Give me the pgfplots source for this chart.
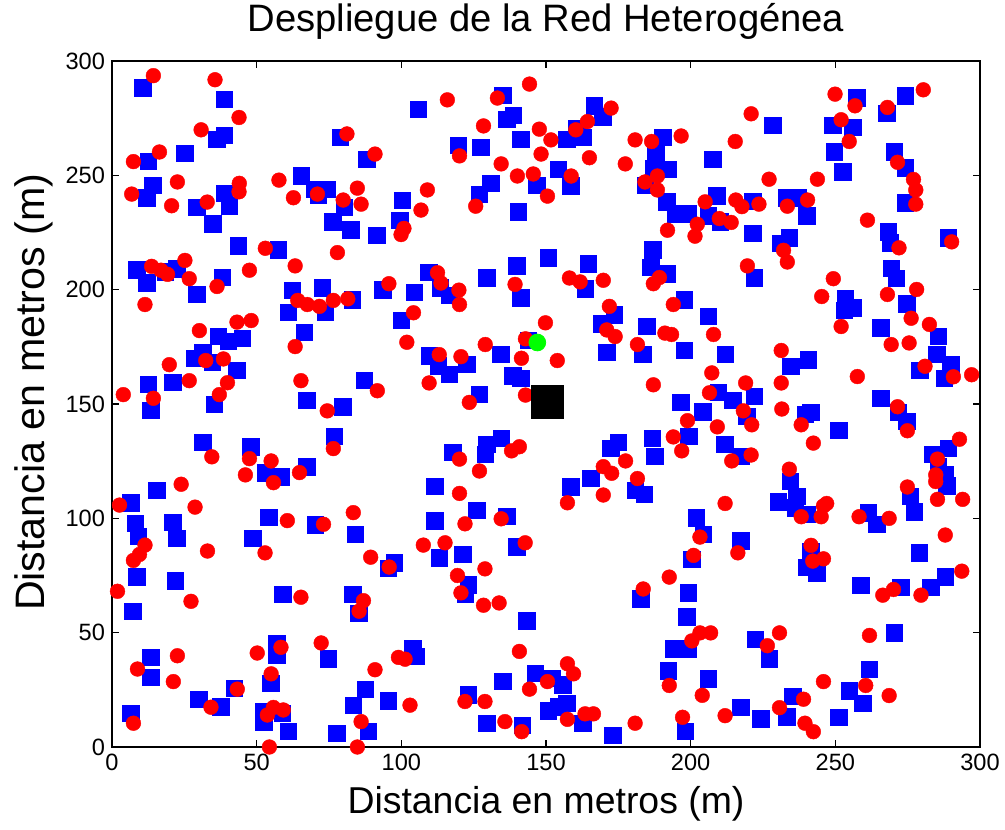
\documentclass[border=0pt]{standalone}
\usepackage{fontspec}
\setmainfont{Liberation Sans}
\usepackage{pgfplots}
\pgfplotsset{compat=1.18}

\begin{document}
\begin{tikzpicture}
\path[use as bounding box] (-56pt,-41pt) rectangle (446.5pt,373.5pt);
\begin{axis}[
  at={(0,0)}, anchor=south west,
  width=434pt, height=343pt, scale only axis,
  xmin=0, xmax=300, ymin=0, ymax=300,
  xtick={0,50,...,300}, ytick={0,50,...,300},
  tick align=inside, major tick length=3.5pt,
  axis line style={line width=0.8pt}, tick style={line width=0.7pt, black},
  /pgf/number format/assume math mode=true,
  tick label style={font=\fontsize{11.8}{14}\selectfont},
  title={Despliegue de la Red Heterogénea},
  title style={at={(axis description cs:0.5,1.0262)}, anchor=base, font=\fontsize{19.1}{22}\selectfont},
  xlabel={Distancia en metros (m)},
  xlabel style={at={(axis description cs:0.5,-0.0962)}, anchor=base, font=\fontsize{18.7}{22}\selectfont},
  ylabel={Distancia en metros (m)},
  ylabel style={at={(axis description cs:-0.0772,0.517)}, anchor=base, font=\fontsize{20.6}{24}\selectfont},
  clip=false,
]
% macro cells (blue squares)
\addplot[only marks, mark=square*, mark size=4.1pt, mark options={draw=blue, fill=blue, line width=0.2pt}] coordinates {
(10.6,288.4) (38.8,283.3) (38.8,267.5) (36.2,265.8) (25.1,259.6) (12.6,256.3) (78.9,266.7) (88.0,257.0) (14.1,245.6) (12.0,240.3) (38.8,242.1) (40.5,236.8) (29.3,236.1) (34.8,228.9) (65.3,249.8) (70.0,243.9) (74.2,243.9) (71.3,241.4) (80.3,236.0) (76.3,229.8) (82.5,226.3) (91.5,223.7) (100.4,239.1) (99.4,230.5) (43.7,219.2) (57.5,217.5) (8.5,208.8) (22.4,209.2) (18.3,207.8) (12.0,203.0) (29.3,198.0) (38.1,205.5) (62.3,199.7) (72.6,200.8) (93.6,200.0) (104.5,199.0)
(61.0,190.2) (73.6,190.2) (83.1,195.6) (100.0,186.6) (66.5,181.4) (36.8,179.6) (40.2,177.5) (45.1,178.9) (31.4,172.6) (28.5,170.1) (34.7,168.2) (43.1,164.9) (12.6,158.7) (21.0,159.6) (13.4,147.3) (35.4,150.0) (67.3,151.7) (79.7,148.9) (87.2,160.5) (31.4,133.2) (47.9,131.4) (76.9,135.8) (67.3,122.6) (52.9,120.0) (58.3,118.2) (15.5,112.3) (6.5,106.8) (8.0,98.0) (21.0,98.3) (54.1,100.5) (70.2,97.2)
(9.1,92.2) (22.4,91.2) (48.6,91.2) (84.0,93.0) (97.6,80.6) (95.5,78.1) (8.5,74.4) (21.8,72.8) (7.2,59.4) (59.0,66.7) (83.2,66.7) (85.2,58.6) (56.9,45.5) (56.9,40.3) (74.8,38.6) (13.4,39.2) (13.4,30.5) (42.3,25.7) (29.9,21.0) (37.6,17.7) (54.9,27.9) (52.2,15.5) (52.4,11.1) (58.9,14.8) (61.0,7.0) (77.7,6.0) (88.6,7.0) (87.5,25.3) (83.4,18.4) (95.5,20.2) (6.5,14.8)
(105.9,278.9) (135.0,285.0) (136.4,274.6) (138.7,276.2) (166.7,280.4) (169.6,275.7) (141.3,265.8) (119.7,263.3) (127.4,262.3) (157.2,265.8) (162.7,266.7) (160.6,270.6) (190.3,266.7) (187.9,260.4) (187.1,253.1) (192.3,252.6) (184.2,245.8) (191.7,238.4) (194.6,233.3) (199.2,233.3) (154.3,252.6) (158.5,245.5) (146.8,245.8) (130.9,246.5) (126.9,241.8) (140.4,234.1) (186.9,217.5) (186.2,209.9) (191.7,207.0) (150.8,214.0) (164.6,211.4) (139.9,210.5) (109.5,207.7) (129.5,205.3) (113.4,200.8) (116.6,197.5) (141.3,196.5) (163.5,200.5) (197.8,195.6)
(169.3,185.1) (173.6,189.1) (171.0,172.6) (184.8,184.0) (183.4,171.9) (197.8,173.6) (143.9,178.0) (134.3,171.9) (109.7,171.2) (112.8,166.8) (116.5,163.1) (122.6,167.5) (138.5,162.4) (141.3,161.2) (126.9,154.4) (196.6,150.7) (199.3,135.8) (186.8,135.1) (187.5,127.3) (175.0,133.2) (172.4,130.7) (134.5,135.1) (129.5,132.4) (128.9,128.0) (117.7,128.8) (165.4,117.5) (158.5,113.9) (180.8,112.3) (184.0,110.5) (111.6,114.1) (126.0,103.5) (136.4,101.0) (111.6,99.0) (202.0,100.3)
(113.1,82.7) (121.2,84.2) (139.9,87.6) (123.2,71.0) (122.0,66.7) (143.3,55.3) (182.7,64.9) (199.2,67.4) (198.6,56.9) (200.4,82.0) (194.0,43.0) (199.2,43.0) (192.3,33.3) (103.9,43.0) (105.1,39.6) (135.0,28.9) (123.2,22.8) (146.2,32.3) (152.0,30.1) (155.8,27.2) (157.2,19.2) (154.3,17.7) (150.8,15.8) (162.7,10.4) (129.5,10.4) (141.8,9.6) (173.1,5.2) (198.1,7.0)
(257.4,284.0) (274.1,284.9) (267.8,277.2) (249.1,271.8) (256.0,271.0) (228.4,271.8) (249.7,260.4) (252.6,251.6) (207.6,257.0) (270.4,260.4) (274.1,253.4) (274.1,238.1) (209.0,241.1) (221.5,238.7) (233.2,240.3) (237.2,240.3) (240.1,232.3) (206.1,232.3) (210.2,229.7) (221.5,224.6) (231.1,220.2) (234.0,222.8) (268.3,225.3) (268.9,220.6) (289.1,222.8) (269.3,209.5) (271.0,205.1) (222.0,205.3)
(253.4,196.0) (256.0,192.1) (253.0,190.9) (274.7,193.8) (206.1,188.4) (265.7,183.3) (285.6,179.6) (285.1,171.9) (289.9,167.5) (279.1,164.9) (287.6,161.4) (211.9,171.9) (234.6,166.5) (240.7,169.3) (209.6,155.1) (214.5,151.7) (222.0,153.3) (204.1,146.6) (219.4,144.6) (239.5,145.6) (241.5,146.3) (265.7,152.6) (271.8,146.3) (274.7,142.4) (251.1,138.6) (211.7,132.4) (217.3,127.3) (283.7,128.0) (289.1,130.7) (285.6,122.9) (287.9,119.3) (288.5,114.2) (234.4,116.3) (236.7,109.8) (230.3,107.3) (236.1,104.6) (240.1,101.7) (275.8,109.8) (277.3,102.9) (261.4,102.5)
(264.3,97.4) (204.4,93.0) (217.3,90.3) (241.5,85.7) (240.1,78.6) (243.6,76.2) (279.0,84.9) (258.8,70.8) (272.6,70.0) (283.0,70.0) (287.9,74.4) (270.4,49.9) (222.3,47.2) (227.1,38.6) (206.1,29.8) (217.3,17.4) (224.2,12.3) (233.2,13.3) (235.3,22.1) (251.1,13.0) (254.8,24.6) (259.5,19.2) (261.7,34.1)
};
% users (red circles)
\addplot[only marks, mark=*, mark size=3.7pt, mark options={draw=red, fill=red, line width=0.2pt}] coordinates {
(14.3,293.6) (35.6,291.8) (43.9,275.3) (30.8,269.9) (16.4,260.2) (7.4,256.0) (81.2,268.1) (90.9,259.3) (22.6,247.1) (6.8,241.8) (20.6,236.7) (32.9,238.3) (44.0,246.5) (43.9,242.8) (57.7,247.9) (62.7,240.2) (71.0,241.8) (79.9,239.2) (84.8,244.4) (86.1,237.4) (100.9,226.8) (99.9,224.1) (53.0,218.1) (77.9,216.2) (63.3,210.4) (47.5,208.5) (25.2,212.8) (13.7,210.2) (16.9,208.5) (19.2,206.7) (26.7,204.8) (36.3,201.4) (95.7,202.6)
(11.4,193.5) (64.2,195.3) (67.5,193.5) (71.7,192.7) (76.5,195.3) (81.5,196.0) (43.2,185.8) (48.1,186.5) (30.2,182.1) (63.3,175.1) (101.9,177.0) (104.2,189.9) (32.4,169.0) (38.5,169.7) (19.8,167.2) (26.7,160.2) (39.9,159.3) (37.1,154.1) (3.9,154.1) (14.3,152.5) (65.3,160.2) (91.7,155.8) (74.4,147.0) (76.5,130.5) (34.5,126.9) (47.5,126.1) (55.0,125.1) (46.1,119.0) (55.8,115.6) (64.8,120.0) (23.9,114.9) (2.6,105.8) (28.7,104.9) (83.4,102.5) (60.6,99.0) (73.1,97.4)
(11.4,88.3) (9.5,84.2) (7.4,81.6) (33.0,85.7) (52.9,84.9) (89.4,83.0) (95.8,78.7) (1.9,68.1) (27.3,63.7) (65.3,65.5) (86.9,64.0) (85.4,59.4) (72.3,45.5) (58.4,43.6) (50.2,41.1) (22.6,39.9) (8.8,34.1) (21.2,28.6) (55.0,32.0) (43.3,25.3) (34.2,17.4) (55.8,17.3) (53.7,14.0) (59.2,16.2) (86.1,11.1) (90.9,33.8) (99.0,39.2) (101.3,38.4) (103.0,18.3) (7.4,10.4) (54.4,0.0) (84.8,0.0)
(144.3,289.9) (115.9,283.0) (133.2,283.8) (172.5,279.4) (128.4,271.6) (147.7,270.2) (151.7,265.5) (160.3,269.9) (164.3,273.5) (180.8,265.5) (186.5,264.8) (196.7,267.2) (120.1,258.5) (148.3,259.3) (165.0,257.7) (134.5,255.0) (177.4,255.0) (140.1,249.7) (145.6,250.6) (158.7,249.7) (188.5,249.7) (184.2,247.1) (188.5,243.6) (150.5,240.9) (109.0,243.6) (106.8,234.8) (125.7,236.5) (192.0,226.0) (112.5,207.4) (113.7,202.9) (119.9,199.8) (139.3,202.3) (158.1,205.1) (161.8,203.4) (169.8,204.1) (189.2,205.3) (187.1,202.6)
(120.1,193.5) (171.9,192.7) (194.0,193.5) (149.8,185.5) (142.9,178.5) (171.0,182.4) (173.9,179.5) (181.6,176.0) (191.1,181.0) (193.4,180.4) (113.1,171.6) (120.6,170.7) (129.0,176.0) (141.5,170.0) (153.9,169.0) (109.6,159.2) (142.9,153.9) (123.5,150.7) (187.1,158.4) (198.9,142.7) (194.0,135.6) (196.9,129.5) (138.1,129.5) (140.8,131.3) (120.1,125.9) (127.0,120.7) (169.8,122.6) (172.7,119.7) (177.5,125.1) (181.6,117.4) (169.8,110.2) (157.4,106.8) (120.1,110.9) (122.0,97.6) (134.5,99.8)
(107.6,88.3) (115.1,89.3) (142.8,89.3) (128.9,77.9) (119.4,75.0) (120.6,67.4) (128.4,62.0) (133.8,63.0) (183.6,69.1) (192.6,74.3) (201.0,83.8) (203.2,91.8) (203.2,49.9) (200.4,46.4) (192.6,26.9) (204.0,22.6) (197.2,13.0) (180.8,10.4) (140.8,41.8) (157.4,36.4) (159.5,32.0) (150.5,28.6) (144.3,25.3) (122.0,19.9) (128.9,19.9) (135.8,11.1) (141.6,6.7) (157.4,12.1) (163.5,14.5) (166.4,14.5)
(249.9,285.5) (256.8,280.4) (280.4,287.4) (268.0,279.7) (220.9,276.9) (252.0,274.3) (254.8,264.8) (215.4,264.8) (271.5,255.7) (227.1,248.3) (243.8,248.3) (277.0,248.2) (277.8,243.6) (277.8,237.4) (205.0,238.4) (215.6,239.2) (217.7,236.3) (223.6,237.4) (233.4,236.5) (240.4,239.2) (209.9,231.1) (214.0,229.4) (202.3,228.6) (201.5,223.4) (261.1,230.4) (272.0,218.3) (290.2,220.9) (232.1,217.2) (233.4,212.1) (219.6,210.4) (249.3,204.8) (278.1,200.1)
(245.3,197.0) (268.0,197.9) (252.0,183.9) (276.2,187.5) (282.5,184.8) (207.9,180.4) (269.3,176.0) (275.5,176.7) (231.3,173.4) (281.0,166.5) (290.8,161.9) (297.1,162.8) (257.6,162.0) (207.3,163.6) (206.5,154.9) (219.0,159.2) (231.3,159.2) (218.2,147.0) (231.5,147.8) (271.5,148.8) (209.2,140.0) (221.1,140.9) (238.2,140.9) (274.9,138.3) (242.4,132.9) (292.9,134.6) (214.2,125.1) (220.9,127.7) (285.3,125.9) (284.7,119.0) (284.7,116.1) (234.1,121.5) (274.9,113.7) (285.3,108.3) (294.0,108.3) (211.9,106.5) (247.0,106.5) (245.9,105.4) (238.2,100.7) (245.1,100.7) (258.2,100.7) (268.6,100.0)
(216.3,84.9) (288.0,92.7) (241.6,88.2) (242.2,81.3) (245.9,82.3) (293.7,76.9) (266.4,66.4) (270.1,68.9) (279.6,66.4) (206.9,49.9) (230.7,49.9) (226.5,44.3) (261.8,48.8) (245.9,28.6) (260.5,26.9) (268.6,22.5) (211.9,13.7) (230.7,17.2) (239.0,20.9) (239.5,10.4) (242.4,6.7)
};
% base station (black square) and reference user (green)
\addplot[only marks, mark=square*, mark size=8.2pt, mark options={draw=black, fill=black}] coordinates {(150.5,150.8)};
\addplot[only marks, mark=*, mark size=4.2pt, mark options={draw=green, fill=green}] coordinates {(147.0,176.9)};
\end{axis}
\end{tikzpicture}
\end{document}
